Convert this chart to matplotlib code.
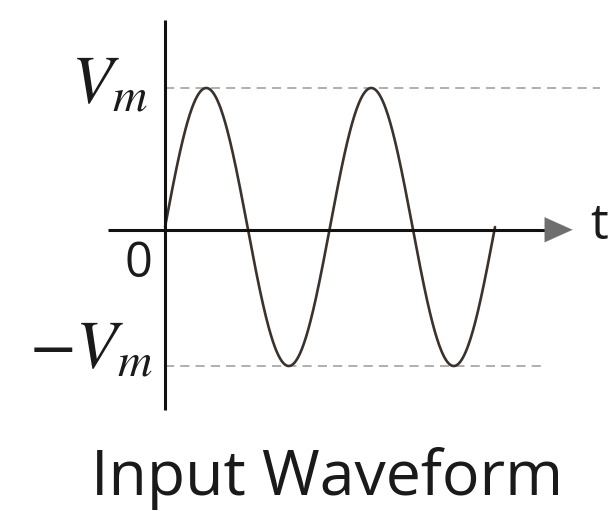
import numpy as np
import matplotlib
matplotlib.use("Agg")
import matplotlib.pyplot as plt

# ---- chart content ----
title = "Input Waveform"
amplitude = 1.0            # Vm
cycles = 2                 # number of periods shown
peak_label = r"$V_{m}$"
trough_label = r"$-V_{m}$"
origin_label = "0"
time_label = "t"

plt.rcParams["mathtext.fontset"] = "stix"

fig = plt.figure(figsize=(6.12, 5.11), dpi=100)
ax = fig.add_axes([0, 0, 1, 1])
ax.set_xlim(-1.0, 2.709)
ax.set_ylim(-2.043, 1.633)
ax.axis("off")

# waveform
t = np.linspace(0, cycles, 600)
v = amplitude * np.sin(2 * np.pi * t)
ax.plot(t, v, color="#3b322c", lw=1.9, solid_capstyle="round", zorder=3)

# dashed reference lines at +/- Vm
ax.plot([0, 2.636], [amplitude, amplitude], color="#9a9a9a", lw=1.1,
        dashes=(6, 4), zorder=1)
ax.plot([0, 2.315], [-amplitude, -amplitude], color="#9a9a9a", lw=1.1,
        dashes=(6, 4), zorder=1)

# vertical axis
ax.plot([0, 0], [1.489, -1.317], color="#111111", lw=2.2, zorder=4,
        solid_capstyle="butt")
# horizontal axis with arrow
ax.plot([-0.345, 2.32], [-0.02, -0.02], color="#111111", lw=2.2, zorder=4,
        solid_capstyle="butt")
ax.annotate("", xy=(2.47, -0.02), xytext=(2.28, -0.02),
            arrowprops=dict(arrowstyle="-|>,head_length=2.0,head_width=0.9",
                            color="#6e6e6e", lw=0.1, shrinkA=0, shrinkB=0),
            zorder=5)

# labels
txt_kw = dict(color="#1a1a1a", va="baseline")
ax.text(-0.105, 0.899, peak_label, fontsize=49, ha="right", **txt_kw)
ax.text(-0.075, -1.014, trough_label, fontsize=49, ha="right", **txt_kw)

ax.text(-0.158, -0.266, origin_label, fontsize=35, ha="center", va="center",
        family="Open Sans", color="#1a1a1a")
ax.text(2.63, 0.007, time_label, fontsize=36, ha="center", va="center",
        family="Open Sans", color="#1a1a1a")
ax.text(0.982, -1.925, title, fontsize=45, ha="center", va="baseline",
        family="Open Sans", color="#1a1a1a")

fig.savefig("out.png", dpi=100)
